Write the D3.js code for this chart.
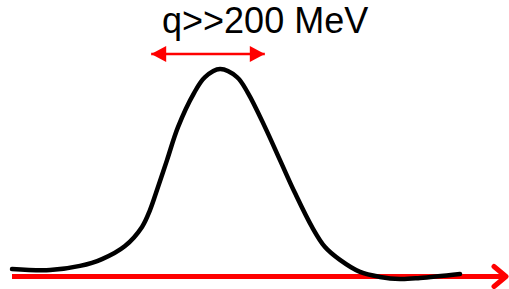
<!DOCTYPE html>
<meta charset="utf-8">
<style>
body { margin: 0; background: #fff; }
.curve { fill: none; stroke: #000; stroke-width: 4.5px; stroke-linecap: round; }
.axisline { stroke: #ff0000; stroke-width: 5px; }
.width { stroke: #ff0000; stroke-width: 2.5px; }
.label { font-family: "Liberation Sans", Arial, sans-serif; font-size: 36px; fill: #000; }
</style>
<svg width="509" height="289"></svg>
<script src="https://cdn.jsdelivr.net/npm/d3@7"></script>
<script>
// curve (q in arbitrary units, height normalised to peak)
var qs = [0, 8.48, 15.18, 20.09, 25.22, 29.02, 30.80, 32.14, 34.60, 37.05, 40.63, 43.08, 46.43,
          50.22, 52.68, 56.47, 59.82, 63.17, 66.96, 69.87, 73.21, 77.68, 82.14, 86.61, 91.07, 100];
var hs = [0.036, 0.031, 0.051, 0.084, 0.147, 0.239, 0.320, 0.402, 0.561, 0.720, 0.884, 0.961, 1.0,
          0.961, 0.884, 0.720, 0.561, 0.402, 0.239, 0.142, 0.080, 0.022, -0.002, -0.012, -0.007, 0.012];
var widthRange = [30.4, 57.1];   // span of the double arrow
var widthLevel = 1.072;
var labelText = "q>>200 MeV";

var svg = d3.select("svg");

var x = d3.scaleLinear().domain([0, 100]).range([12, 460]),
    y = d3.scaleLinear().domain([0, 1]).range([276.5, 69]);

var defs = svg.append("defs");
defs.append("marker")
    .attr("id", "tri")
    .attr("markerUnits", "userSpaceOnUse")
    .attr("viewBox", "-16 -9 17 18")
    .attr("markerWidth", 17).attr("markerHeight", 18)
    .attr("refX", 0).attr("refY", 0)
    .attr("orient", "auto-start-reverse")
  .append("path")
    .attr("d", "M0,0L-15,-8L-15,8Z")
    .attr("fill", "#ff0000");
defs.append("marker")
    .attr("id", "chev")
    .attr("markerUnits", "userSpaceOnUse")
    .attr("viewBox", "-18 -15 22 30")
    .attr("markerWidth", 22).attr("markerHeight", 30)
    .attr("refX", 0).attr("refY", 0)
    .attr("orient", "auto")
  .append("path")
    .attr("d", "M-12,-10L0,0L-12,10")
    .attr("fill", "none")
    .attr("stroke", "#ff0000")
    .attr("stroke-width", 5)
    .attr("stroke-linecap", "round")
    .attr("stroke-linejoin", "round");

// horizontal axis with arrow
svg.append("line")
    .attr("class", "axisline")
    .attr("x1", x(0)).attr("x2", x.range()[1] + 46)
    .attr("y1", y(0)).attr("y2", y(0))
    .attr("marker-end", "url(#chev)");

var data = qs.map(function(q, i) { return {q: q, h: hs[i]}; });

var line = d3.line()
    .x(function(d) { return x(d.q); })
    .y(function(d) { return y(d.h); })
    .curve(d3.curveCatmullRom.alpha(0.5));

svg.append("path")
    .datum(data)
    .attr("class", "curve")
    .attr("d", line);

// width double arrow
svg.append("line")
    .attr("class", "width")
    .attr("x1", x(widthRange[0]) + 3).attr("x2", x(widthRange[1]) - 3)
    .attr("y1", y(widthLevel)).attr("y2", y(widthLevel))
    .attr("marker-start", "url(#tri)")
    .attr("marker-end", "url(#tri)");

svg.append("text")
    .attr("class", "label")
    .attr("x", x(56.5))
    .attr("y", 33)
    .attr("text-anchor", "middle")
    .text(labelText);
</script>
